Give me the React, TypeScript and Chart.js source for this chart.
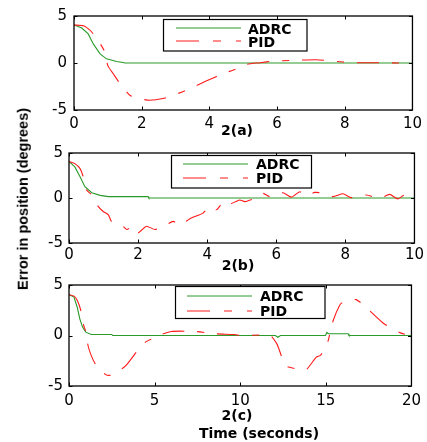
import React, { useEffect, useRef } from 'react';
import { Chart, registerables } from 'chart.js';

Chart.register(...registerables);

// ---------- Panel 2(a) ----------
const adrcA_t = [0, 0.23, 0.42, 0.57, 0.77, 0.96, 1.26, 1.45, 1.5, 10];
const adrcA_y = [4.04, 3.72, 3.09, 2.03, 0.97, 0.44, 0.16, 0.05, 0, 0];
const pidA_t = [0, 0.28, 0.47, 0.57, 0.81, 0.91, 1.0, 1.16, 1.36, 1.65, 1.9, 2.24, 2.63, 2.93, 3.32, 3.92, 4.41, 4.9, 5.1, 5.5, 5.88, 6.47, 7.16, 7.65, 8.24, 9.1, 9.6, 10];
const pidA_y = [4.04, 3.96, 3.5, 3.09, 1.85, 1.14, -0.28, -1.14, -2.2, -3.43, -3.78, -3.96, -3.78, -3.43, -2.9, -1.9, -1.13, -0.5, -0.14, 0.03, 0.2, 0.28, 0.35, 0.2, 0.03, 0.03, 0, 0];

// ---------- Panel 2(b) ----------
const adrcB_t = [0, 0.17, 0.32, 0.46, 0.66, 0.9, 1.14, 2.29, 2.31, 10];
const adrcB_y = [4.05, 3.45, 2.35, 1.25, 0.59, 0.29, 0.15, 0.15, 0, 0];
const pidB_t = [0, 0.17, 0.32, 0.4, 0.51, 0.63, 0.85, 0.99, 1.14, 1.23, 1.52, 1.67, 1.86, 2.0, 2.24, 2.49, 2.82, 3.02, 3.21, 3.5, 3.88, 4.07, 4.27, 4.46, 4.6, 4.94, 5.09, 5.42, 5.62, 5.81, 6.19, 6.44, 6.68, 6.87, 7.11, 7.4, 7.64, 7.93, 8.17, 8.6, 8.99, 9.28, 9.52, 9.71, 9.86, 10];
const pidB_y = [4.05, 3.82, 3.27, 2.5, 0.88, 0.44, -0.96, -1.5, -1.87, -2.6, -2.96, -3.5, -3.14, -3.87, -3.14, -3.5, -2.96, -2.6, -3.03, -2.3, -1.68, -0.95, -1.31, -0.47, -0.77, -0.22, -0.4, 0.04, 0.51, 0.15, 0.58, 0.1, 0.69, 0.26, 0.62, 0.51, 0.15, 0.47, 0.04, 0.33, -0.04, 0.4, -0.1, 0.33, -0.04, 0];

// ---------- Panel 2(c) ----------
const adrcC_t = [0, 0.29, 0.48, 0.63, 0.79, 0.98, 1.3, 2.5, 2.55, 12.05, 12.2, 12.35, 14.98, 15.06, 15.15, 16.3, 16.35, 20];
const adrcC_y = [4.04, 3.8, 2.8, 1.66, 0.83, 0.33, 0.1, 0.1, 0, 0, -0.17, 0, 0, 0.3, 0.17, 0.17, 0, 0];
const pidC_t = [0, 0.29, 0.48, 0.69, 0.86, 0.98, 1.11, 1.3, 1.59, 2.17, 2.55, 3.32, 4.08, 4.47, 4.85, 5.23, 5.99, 7.34, 8.49, 9.65, 10.1, 11.75, 12.14, 12.33, 12.62, 13.29, 13.5, 13.86, 14.44, 14.66, 14.82, 15.14, 15.23, 15.43, 15.8, 16.0, 16.77, 17.54, 18.4, 19.27, 20];
const pidC_y = [4.04, 3.9, 3.48, 2.48, 0.99, 0.4, -0.99, -1.99, -2.98, -3.9, -3.9, -2.98, -1.32, -0.66, -0.33, 0, 0.4, 0.4, 0.17, 0.1, 0, 0, -0.83, -1.66, -2.98, -3.31, -3.3, -3.38, -2.15, -1.99, -1.66, -0.5, 0.17, 1.49, 2.98, 3.3, 3.55, 2.48, 1.16, 0.33, -0.1];

const yTicks = [-5, 0, 5];
const seriesNames = ['ADRC', 'PID'];
const panelTitles = ['2(a)', '2(b)', '2(c)'];
const xAxisTitle = 'Time (seconds)';
const yAxisTitle = 'Error in position (degrees)';

const GREEN = '#2a9a2a';
const RED = '#ff1a1a';
const DASH = [22, 13, 7, 13];
const W = 427;
const H = 442;

type Legend = { bx: number; by: number; bw: number; bh: number; lx1: number; lx2: number; gy: number; ry: number; tx: number; ty1: number; ty2: number };
type Panel = {
  area: [number, number, number, number];
  xMax: number;
  xStep: number;
  at: number[]; ay: number[]; pt: number[]; py: number[];
  legend: Legend;
  xPad: number;
  yPad: number;
};

const panels: Panel[] = [
  {
    area: [74, 15, 413, 110], xMax: 10, xStep: 2,
    at: adrcA_t, ay: adrcA_y, pt: pidA_t, py: pidA_y,
    legend: { bx: 163.5, by: 19.5, bw: 143.5, bh: 31.5, lx1: 176, lx2: 241, gy: 28, ry: 41, tx: 248, ty1: 30, ty2: 43 },
    xPad: 5, yPad: 7,
  },
  {
    area: [69, 153, 415, 243], xMax: 10, xStep: 2,
    at: adrcB_t, ay: adrcB_y, pt: pidB_t, py: pidB_y,
    legend: { bx: 171.5, by: 155.5, bw: 140, bh: 32.5, lx1: 183, lx2: 248, gy: 164, ry: 178, tx: 256, ty1: 165, ty2: 179.5 },
    xPad: 3, yPad: 6,
  },
  {
    area: [69, 285, 416, 386], xMax: 20, xStep: 5,
    at: adrcC_t, ay: adrcC_y, pt: pidC_t, py: pidC_y,
    legend: { bx: 175.5, by: 286.5, bw: 149.5, bh: 32, lx1: 187, lx2: 252, gy: 296, ry: 311, tx: 260, ty1: 297.5, ty2: 312.5 },
    xPad: 6, yPad: 6,
  },
];

const toPts = (t: number[], y: number[]) => t.map((v, i) => ({ x: v, y: y[i] }));

const framePlugin = {
  id: 'frame',
  afterDraw(chart: any, _args: any, opts: any) {
    const { ctx, chartArea } = chart;
    const { left, top, right, bottom } = chartArea;
    const xs = chart.scales.x;
    const ys = chart.scales.y;
    ctx.save();
    ctx.strokeStyle = '#000';
    ctx.lineWidth = 1.3;
    ctx.setLineDash([]);
    ctx.strokeRect(left, top, right - left, bottom - top);
    ctx.lineWidth = 1;
    ctx.beginPath();
    xs.ticks.forEach((t: any) => {
      const px = Math.round(xs.getPixelForValue(t.value)) + 0.5;
      ctx.moveTo(px, bottom); ctx.lineTo(px, bottom - 3.5);
      ctx.moveTo(px, top); ctx.lineTo(px, top + 3.5);
    });
    ys.ticks.forEach((t: any) => {
      const py = Math.round(ys.getPixelForValue(t.value)) + 0.5;
      ctx.moveTo(left, py); ctx.lineTo(left + 3.5, py);
      ctx.moveTo(right, py); ctx.lineTo(right - 3.5, py);
    });
    ctx.stroke();

    const L: Legend = opts.legend;
    if (L) {
      ctx.fillStyle = '#fff';
      ctx.fillRect(L.bx, L.by, L.bw, L.bh);
      ctx.strokeStyle = '#000';
      ctx.lineWidth = 1.2;
      ctx.strokeRect(L.bx, L.by, L.bw, L.bh);
      ctx.lineWidth = 1;
      ctx.strokeStyle = GREEN;
      ctx.beginPath(); ctx.moveTo(L.lx1, L.gy); ctx.lineTo(L.lx2, L.gy); ctx.stroke();
      ctx.strokeStyle = RED;
      ctx.setLineDash([23, 14, 8, 15]);
      ctx.beginPath(); ctx.moveTo(L.lx1, L.ry); ctx.lineTo(L.lx2, L.ry); ctx.stroke();
      ctx.setLineDash([]);
      ctx.fillStyle = '#000';
      ctx.font = 'bold 14px "DejaVu Sans"';
      ctx.textBaseline = 'middle';
      ctx.textAlign = 'left';
      ctx.fillText(seriesNames[0], L.tx, L.ty1);
      ctx.fillText(seriesNames[1], L.tx, L.ty2);
    }
    ctx.restore();
  },
};

function PanelChart({ p }: { p: Panel }) {
  const ref = useRef<HTMLCanvasElement | null>(null);
  useEffect(() => {
    if (!ref.current) return;
    const [l, t, r, b] = p.area;
    const xAxisH = 25;
    const chart = new Chart(ref.current, {
      type: 'line',
      data: {
        datasets: [
          { label: seriesNames[0], data: toPts(p.at, p.ay), borderColor: GREEN, borderWidth: 1.1, pointRadius: 0, tension: 0, order: 1 },
          { label: seriesNames[1], data: toPts(p.pt, p.py), borderColor: RED, borderWidth: 1.1, borderDash: DASH, pointRadius: 0, tension: 0.2, order: 0 },
        ],
      },
      options: {
        animation: false,
        responsive: false,
        maintainAspectRatio: false,
        events: [],
        layout: { padding: { left: 0, top: t, right: W - r, bottom: H - b - xAxisH } },
        scales: {
          x: {
            type: 'linear', min: 0, max: p.xMax,
            grid: { display: false, drawTicks: false },
            border: { display: false },
            afterFit: (s: any) => { s.height = xAxisH; },
            afterBuildTicks: (s: any) => {
              const arr = [];
              for (let v = 0; v <= p.xMax; v += p.xStep) arr.push({ value: v });
              s.ticks = arr;
            },
            ticks: { color: '#000', font: { family: 'DejaVu Sans', size: 15 }, padding: p.xPad, maxRotation: 0, autoSkip: false },
          },
          y: {
            type: 'linear', min: -5, max: 5,
            grid: { display: false, drawTicks: false },
            border: { display: false },
            afterFit: (s: any) => { s.width = l; },
            afterBuildTicks: (s: any) => { s.ticks = yTicks.map((v) => ({ value: v })); },
            ticks: { color: '#000', font: { family: 'DejaVu Sans', size: 15 }, padding: p.yPad, autoSkip: false },
          },
        },
        plugins: {
          legend: { display: false },
          tooltip: { enabled: false },
          frame: { legend: p.legend },
        } as any,
      },
      plugins: [framePlugin],
    });
    return () => chart.destroy();
  }, [p]);
  return <canvas ref={ref} width={W} height={H} style={{ position: 'absolute', left: 0, top: 0, width: W, height: H }} />;
}

const textStyle = (x: number, y: number, size: number, family: string): React.CSSProperties => ({
  position: 'absolute', left: x, top: y, transform: 'translate(-50%, -50%)',
  fontFamily: family, fontWeight: 'bold', fontSize: size, whiteSpace: 'nowrap', color: '#000', lineHeight: 1,
});

export default function App() {
  return (
    <div style={{ position: 'fixed', left: 0, top: 0, width: W, height: H, background: '#fff', overflow: 'hidden' }}>
      {panels.map((p, i) => <PanelChart key={i} p={p} />)}
      <div style={textStyle(237, 130, 14, '"DejaVu Sans"')}>{panelTitles[0]}</div>
      <div style={textStyle(238, 264.5, 14, '"DejaVu Sans"')}>{panelTitles[1]}</div>
      <div style={textStyle(237, 414.5, 14, '"DejaVu Sans"')}>{panelTitles[2]}</div>
      <div style={textStyle(259, 433, 14, '"DejaVu Sans"')}>{xAxisTitle}</div>
      <div style={{ ...textStyle(23, 198.5, 14.5, '"Liberation Sans", Arial'), transform: 'translate(-50%, -50%) rotate(-90deg)' }}>{yAxisTitle}</div>
    </div>
  );
}
